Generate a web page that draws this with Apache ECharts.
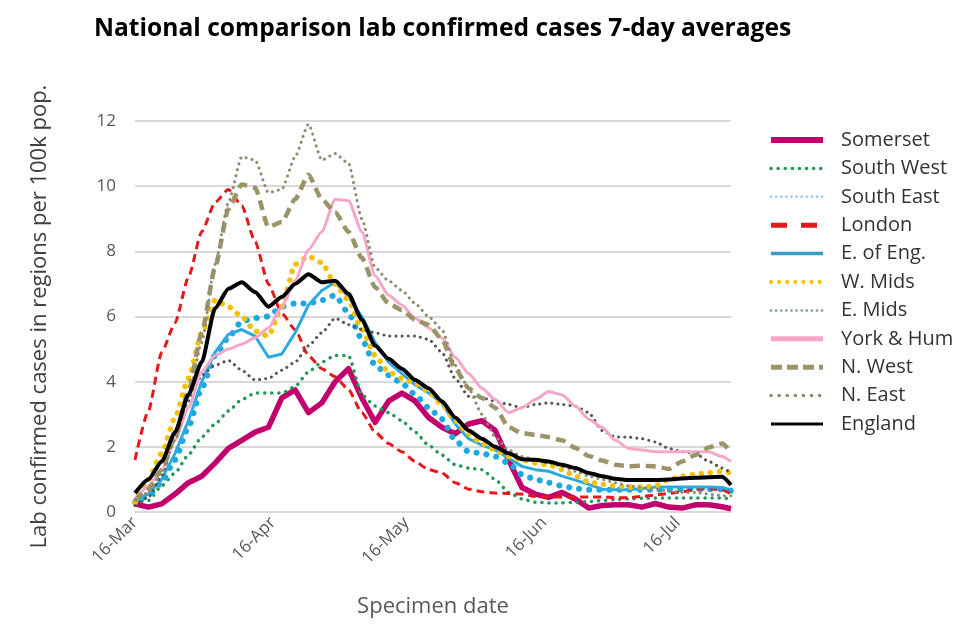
<!DOCTYPE html>
<html><head><meta charset="utf-8">
<script src="https://cdn.jsdelivr.net/npm/echarts@6/dist/echarts.min.js"></script>
<style>html,body{margin:0;padding:0;background:#fff}#c{width:976px;height:643px}</style>
</head><body><div id="c"></div>
<script>
// Days since 16-Mar
const days = [0,3,6,9,12,15,18,21,24,27,30,33,36,39,42,45,48,51,54,57,60,63,66,69,72,75,78,81,84,87,90,93,96,99,102,105,108,111,114,117,120,123,126,129,132,134];
const tickDays = [0,31,61,92,122];
const tickLabels = ['16-Mar','16-Apr','16-May','16-Jun','16-Jul'];

const somerset  = [0.25,0.15,0.25,0.55,0.9,1.1,1.5,1.95,2.2,2.45,2.6,3.5,3.75,3.05,3.35,4.0,4.4,3.5,2.75,3.4,3.65,3.4,2.9,2.6,2.4,2.7,2.8,2.5,1.6,0.75,0.55,0.45,0.6,0.4,0.12,0.2,0.22,0.22,0.15,0.26,0.15,0.12,0.22,0.22,0.16,0.1];
const southWest = [0.3,0.35,0.8,1.2,1.75,2.3,2.7,3.1,3.45,3.65,3.65,3.65,3.85,4.3,4.6,4.8,4.8,3.6,3.25,3.05,2.8,2.45,2.05,1.75,1.45,1.35,1.3,1.0,0.6,0.4,0.3,0.28,0.28,0.3,0.32,0.35,0.38,0.4,0.42,0.43,0.43,0.43,0.43,0.43,0.43,0.4];
const southEast = [0.3,0.5,0.9,1.6,2.6,3.8,4.8,5.35,5.85,5.95,6.0,6.3,6.4,6.4,6.5,6.65,6.1,5.3,4.5,4.2,3.95,3.6,3.2,2.85,2.2,1.85,1.8,1.7,1.5,1.15,1.0,0.9,0.8,0.72,0.68,0.68,0.68,0.68,0.68,0.68,0.68,0.7,0.7,0.7,0.7,0.65];
const london    = [1.6,3.1,4.9,5.8,7.2,8.6,9.5,9.9,9.4,8.3,7.0,6.1,5.6,4.8,4.4,4.15,3.75,3.05,2.45,2.1,1.85,1.55,1.3,1.2,0.9,0.7,0.62,0.58,0.57,0.55,0.48,0.46,0.46,0.46,0.46,0.46,0.44,0.44,0.48,0.52,0.57,0.62,0.7,0.72,0.68,0.55];
const eastEng   = [0.3,0.55,1.0,1.8,2.8,4.0,4.9,5.45,5.6,5.4,4.75,4.85,5.5,6.35,6.8,7.05,6.6,6.0,5.2,4.6,4.25,3.9,3.65,3.35,2.7,2.25,2.05,1.9,1.65,1.4,1.3,1.25,1.1,0.98,0.85,0.7,0.68,0.68,0.72,0.77,0.77,0.77,0.77,0.77,0.75,0.68];
const wMids     = [0.3,1.0,1.8,2.9,4.1,5.5,6.5,6.3,6.0,5.55,5.4,6.3,7.6,7.85,7.65,7.0,6.5,5.6,4.8,4.3,4.1,3.95,3.7,3.3,2.8,2.4,2.1,1.9,1.7,1.6,1.5,1.45,1.3,1.1,0.92,0.85,0.8,0.77,0.77,0.8,1.0,1.1,1.15,1.2,1.25,1.2];
const eMids     = [0.2,0.45,1.1,2.3,3.4,4.2,4.5,4.65,4.35,4.05,4.1,4.35,4.6,5.1,5.5,5.95,5.75,5.6,5.5,5.4,5.4,5.4,5.3,4.9,4.1,3.55,3.5,3.4,3.3,3.2,3.3,3.35,3.3,3.25,3.05,2.5,2.3,2.3,2.25,2.15,1.95,1.85,1.8,1.55,1.35,1.2];
const yorkHum   = [0.37,0.8,1.3,2.2,3.2,4.3,4.8,5.0,5.15,5.35,5.65,6.3,7.1,8.05,8.6,9.6,9.55,8.6,7.25,6.65,6.35,5.95,5.65,5.35,4.75,4.25,3.8,3.45,3.05,3.2,3.45,3.7,3.6,3.25,2.85,2.6,2.2,1.95,1.9,1.85,1.85,1.85,1.85,1.85,1.7,1.55];
const nWest     = [0.35,0.7,1.3,2.3,3.7,5.5,7.5,9.3,10.05,9.95,8.75,8.9,9.6,10.35,9.6,9.2,8.6,7.8,6.9,6.4,6.2,5.9,5.75,5.3,4.4,3.8,3.5,3.2,2.6,2.42,2.37,2.3,2.2,1.97,1.72,1.58,1.45,1.4,1.42,1.4,1.32,1.55,1.75,1.98,2.1,1.85];
const nEast     = [0.37,0.6,1.2,2.2,3.5,5.2,7.6,9.5,10.9,10.8,9.8,9.9,10.9,11.9,10.8,11.0,10.7,9.0,7.5,7.1,6.8,6.4,6.0,5.6,4.5,3.8,3.0,2.3,1.9,1.7,1.6,1.5,1.4,1.25,1.1,1.0,0.9,0.8,0.75,0.7,0.65,0.6,0.6,0.55,0.5,0.5];
const england   = [0.58,1.0,1.55,2.45,3.6,4.6,6.25,6.85,7.05,6.75,6.3,6.6,7.0,7.3,7.05,7.1,6.7,5.9,5.1,4.7,4.4,4.05,3.8,3.4,2.9,2.5,2.25,2.0,1.8,1.62,1.6,1.55,1.45,1.35,1.2,1.1,1.02,0.98,0.98,0.98,1.0,1.03,1.05,1.07,1.08,0.83];

const FONT = "'Open Sans', 'Noto Sans', sans-serif";
const pair = arr => days.map((d, i) => [d, arr[i]]);

const defs = [
  {name:'Somerset',   data:somerset,  color:'#c2006d', width:5.5, type:'solid', lw:6, smooth:false},
  {name:'South West', data:southWest, color:'#1f9a57', width:3.5, type:[0.1,7], cap:'round', lw:3.5, ltype:[0.1,7]},
  {name:'South East', data:southEast, color:'#1fa8e0', width:6,   type:[0.1,10], cap:'round', lw:2.5, ltype:[0.1,5], lcolor:'#8ccbe0'},
  {name:'London',     data:london,    color:'#e3191b', width:3,   type:[8,5], lw:5, ltype:[16,14]},
  {name:'E. of Eng.', data:eastEng,   color:'#29abe2', width:3,   type:'solid', lw:3.5, lcolor:'#3b9cc4', smooth:false},
  {name:'W. Mids',    data:wMids,     color:'#f5c000', width:5.5, type:[0.1,9], cap:'round', lw:4, ltype:[0.1,8]},
  {name:'E. Mids',    data:eMids,     color:'#555555', width:3,   type:[0.1,6], cap:'round', lw:2.5, ltype:[0.1,5], lcolor:'#7f9a80'},
  {name:'York & Hum', data:yorkHum,   color:'#f5a6c9', width:3,   type:'solid', lw:5},
  {name:'N. West',    data:nWest,     color:'#9c9468', width:4.5, type:[10,6], lw:5, ltype:[11,5]},
  {name:'N. East',    data:nEast,     color:'#8f8b6e', width:3,   type:[0.1,6], cap:'round', lw:3.5, ltype:[0.1,8]},
  {name:'England',    data:england,   color:'#000000', width:4,   type:'solid', lw:3}
];

const series = defs.map(d => ({
  name: d.name, type: 'line', data: pair(d.data), showSymbol: false, symbol: 'none',
  smooth: d.smooth === false ? false : 0.2, smoothMonotone: 'x', color: d.color,
  lineStyle: {color: d.color, width: d.width, type: d.type, cap: d.cap || 'butt', join: 'round'},
  emphasis: {disabled: true}
}));

const chart = echarts.init(document.getElementById('c'), null, {renderer: 'canvas'});
chart.setOption({
  animation: false,
  backgroundColor: '#ffffff',
  title: {
    text: 'National comparison lab confirmed cases 7-day averages',
    left: 89, top: 11,
    textStyle: {fontFamily: FONT, fontWeight: 'bold', fontSize: 24.6, color: '#000'}
  },
  legend: {
    orient: 'vertical', left: 768, top: 129, padding: 0,
    itemWidth: 52, itemHeight: 10, itemGap: 6.4,
    itemStyle: {opacity: 0},
    textStyle: {fontFamily: FONT, fontSize: 20, color: '#333', lineHeight: 22, padding: [0,0,0,13]},
    data: defs.map(d => ({
      name: d.name,
      itemStyle: {opacity: 0},
      lineStyle: {color: d.lcolor || d.color, width: d.lw, type: d.ltype || 'solid', cap: d.cap || 'butt'}
    }))
  },
  grid: {left: 135, right: 245, top: 121, bottom: 131, containLabel: false},
  xAxis: {
    type: 'value', min: 0, max: 134,
    name: 'Specimen date', nameLocation: 'middle', nameGap: 84,
    nameTextStyle: {fontFamily: FONT, fontSize: 22, color: '#595959'},
    axisLine: {show: true, lineStyle: {color: '#d9d9d9', width: 2}},
    axisTick: {show: false},
    splitLine: {show: false},
    axisLabel: {
      rotate: 45, margin: 8, fontFamily: FONT, fontSize: 17, color: '#595959',
      customValues: tickDays,
      formatter: v => { const i = tickDays.indexOf(v); return i >= 0 ? tickLabels[i] : ''; }
    }
  },
  yAxis: {
    type: 'value', min: 0, max: 12, interval: 2,
    name: 'Lab confirmed cases in regions per 100k pop.', nameLocation: 'middle', nameGap: 84,
    nameTextStyle: {fontFamily: FONT, fontSize: 22, color: '#404040'},
    axisLine: {show: false}, axisTick: {show: false},
    splitLine: {lineStyle: {color: '#d9d9d9', width: 2}},
    axisLabel: {margin: 19, fontFamily: FONT, fontSize: 17, color: '#595959'}
  },
  series: series
});
</script></body></html>
